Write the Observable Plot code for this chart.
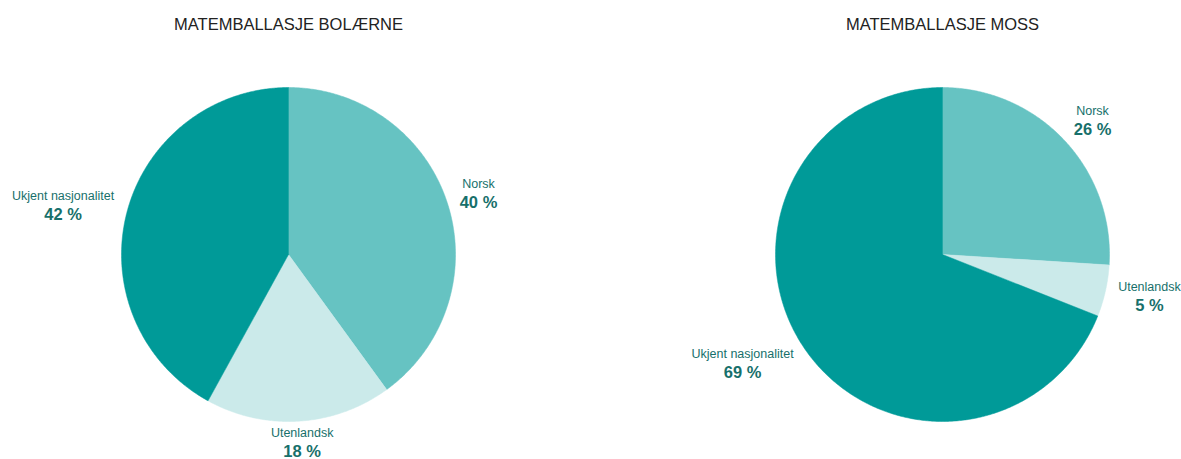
<!DOCTYPE html>
<html>
<head>
<meta charset="utf-8">
<script src="https://cdn.jsdelivr.net/npm/d3@7"></script>
<script src="https://cdn.jsdelivr.net/npm/@observablehq/plot@0.6"></script>
<style>
  html, body { margin: 0; padding: 0; background: #ffffff; }
  #chart { width: 1181px; height: 459px; }
</style>
</head>
<body>
<div id="chart"></div>
<script>
// ---- Data ----
const categories = ["Norsk", "Utenlandsk", "Ukjent nasjonalitet"];
const bolaerneValues = [40, 18, 42];
const mossValues = [26, 5, 69];
const titles = ["MATEMBALLASJE BOLÆRNE", "MATEMBALLASJE MOSS"];
const sliceColors = ["#66c3c2", "#cbeaea", "#009a98"];

// ---- Layout ----
const W = 1181, H = 459;
const centersX = [288, 942];
const centerY = 254;
const radius = 167;
const labelRadius = 180;
const labelColor = "#17706b";
const fontFamily = "'Liberation Sans', Arial, Helvetica, sans-serif";
const catSize = 12.5, pctSize = 16.5, titleSize = 16.5;

const pies = [
  {title: titles[0], values: bolaerneValues, cx: centersX[0]},
  {title: titles[1], values: mossValues, cx: centersX[1]}
];

const ctx = document.createElement("canvas").getContext("2d");
function textWidth(str, font) { ctx.font = font; return ctx.measureText(str).width; }

const pieGen = d3.pie().sort(null).value(d => d);
const polys = [];
const labels = [];
const titleData = [];

pies.forEach((p, pi) => {
  titleData.push({x: p.cx, y: 24, text: p.title});
  const arcs = pieGen(p.values);
  arcs.forEach((a, i) => {
    const key = pi + "-" + i;
    const cat = categories[i];
    polys.push({key, cat, x: p.cx, y: centerY});
    const steps = Math.max(2, Math.ceil((a.endAngle - a.startAngle) / (Math.PI / 360)));
    for (let s = 0; s <= steps; s++) {
      const ang = a.startAngle + (a.endAngle - a.startAngle) * s / steps;
      polys.push({key, cat, x: p.cx + radius * Math.sin(ang), y: centerY - radius * Math.cos(ang)});
    }
    polys.push({key, cat, x: p.cx, y: centerY});

    // label placement outside the slice, along its middle angle
    const mid = (a.startAngle + a.endAngle) / 2;
    const ux = Math.sin(mid), uy = -Math.cos(mid);
    const px = p.cx + labelRadius * ux, py = centerY + labelRadius * uy;
    const pct = p.values[i] + " %";
    const w = Math.max(textWidth(cat, catSize + "px " + fontFamily), textWidth(pct, "bold " + pctSize + "px " + fontFamily));
    const h = 34;
    let left, top;
    if (Math.abs(ux) >= 0.5) {
      left = ux > 0 ? px : px - w;
      const f = Math.min(1, Math.max(0, 0.5 - uy * 0.45));
      top = py - f * h;
    } else {
      top = uy > 0 ? py - 8 : py - h;
      const fx = Math.min(1, Math.max(0, 0.5 - ux * 0.6));
      left = px - fx * w;
    }
    labels.push({cat, pct, x: left + w / 2, catY: top + 7, pctY: top + 25.5});
  });
});

const chart = Plot.plot({
  width: W,
  height: H,
  margin: 0,
  style: {fontFamily, background: "#ffffff"},
  x: {type: "identity", axis: null},
  y: {type: "identity", axis: null},
  color: {domain: categories, range: sliceColors},
  marks: [
    Plot.line(polys, {x: "x", y: "y", z: "key", fill: "cat", stroke: "cat", strokeWidth: 0.5, curve: "linear"}),
    Plot.text(titleData, {x: "x", y: "y", text: "text", fontSize: titleSize, fill: "#222222", textAnchor: "middle", lineAnchor: "middle"}),
    Plot.text(labels, {x: "x", y: "catY", text: "cat", fontSize: catSize, fill: labelColor, textAnchor: "middle", lineAnchor: "middle"}),
    Plot.text(labels, {x: "x", y: "pctY", text: "pct", fontSize: pctSize, fontWeight: "bold", fill: labelColor, textAnchor: "middle", lineAnchor: "middle"})
  ]
});
document.getElementById("chart").appendChild(chart);
</script>
</body>
</html>
